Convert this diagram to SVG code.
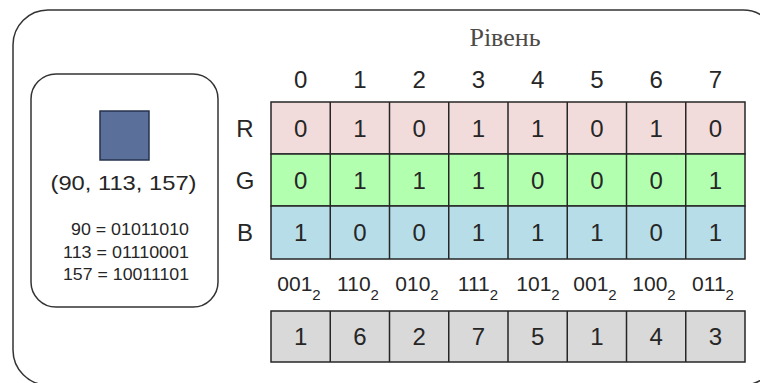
<svg xmlns="http://www.w3.org/2000/svg" width="760" height="383" viewBox="0 0 760 383">
<style>
.frame{fill:none;stroke:#333;stroke-width:1.5}
.cell{stroke:#262626;stroke-width:1.5}
.r{fill:#f2dcdb}.g{fill:#b3ffb0}.b{fill:#b7dde8}.k{fill:#d9d9d9}
text{font-family:"Liberation Sans",Arial,sans-serif;fill:#262626}
.d{font-size:24px;text-anchor:middle}
.s{font-size:21px;text-anchor:middle}
.sub{font-size:15px}
.bin{font-size:16px;text-anchor:end}
.title{font-family:"Liberation Serif","Times New Roman",serif;font-size:26px;fill:#4d4a48;text-anchor:middle}
</style>
<rect id="outer" class="frame" x="13" y="10" width="765" height="375" rx="35"/>
<g id="pixel">
<rect class="frame" x="31" y="74" width="187" height="233" rx="25"/>
<rect x="100" y="111" width="49" height="49" fill="#5a6f9a" stroke="#26324d" stroke-width="1.5"/>
<text x="123.5" y="190" style="font-size:21px;text-anchor:middle" textLength="146" lengthAdjust="spacingAndGlyphs">(90, 113, 157)</text>
<text class="bin" x="189" y="235" textLength="118" lengthAdjust="spacingAndGlyphs">90 = 01011010</text>
<text class="bin" x="189" y="258" textLength="126" lengthAdjust="spacingAndGlyphs">113 = 01110001</text>
<text class="bin" x="189" y="280" textLength="126" lengthAdjust="spacingAndGlyphs">157 = 10011101</text>
</g>
<text id="title" class="title" x="505" y="46">Рівень</text>
<g id="headers">
<text class="d" x="300.6" y="88">0</text>
<text class="d" x="359.9" y="88">1</text>
<text class="d" x="419.1" y="88">2</text>
<text class="d" x="478.4" y="88">3</text>
<text class="d" x="537.6" y="88">4</text>
<text class="d" x="596.9" y="88">5</text>
<text class="d" x="656.1" y="88">6</text>
<text class="d" x="715.4" y="88">7</text>
<text class="d" x="245" y="137">R</text>
<text class="d" x="245" y="189">G</text>
<text class="d" x="245" y="241">B</text>
</g>
<g id="rowR">
<rect class="cell r" x="271" y="102" width="474" height="52"/>
<path class="cell" d="M330.25 102V154M389.5 102V154M448.75 102V154M508 102V154M567.25 102V154M626.5 102V154M685.75 102V154"/>
<text class="d" x="300.6" y="137">0</text><text class="d" x="359.9" y="137">1</text><text class="d" x="419.1" y="137">0</text><text class="d" x="478.4" y="137">1</text><text class="d" x="537.6" y="137">1</text><text class="d" x="596.9" y="137">0</text><text class="d" x="656.1" y="137">1</text><text class="d" x="715.4" y="137">0</text>
</g>
<g id="rowG">
<rect class="cell g" x="271" y="154" width="474" height="52"/>
<path class="cell" d="M330.25 154V206M389.5 154V206M448.75 154V206M508 154V206M567.25 154V206M626.5 154V206M685.75 154V206"/>
<text class="d" x="300.6" y="189">0</text><text class="d" x="359.9" y="189">1</text><text class="d" x="419.1" y="189">1</text><text class="d" x="478.4" y="189">1</text><text class="d" x="537.6" y="189">0</text><text class="d" x="596.9" y="189">0</text><text class="d" x="656.1" y="189">0</text><text class="d" x="715.4" y="189">1</text>
</g>
<g id="rowB">
<rect class="cell b" x="271" y="206" width="474" height="53"/>
<path class="cell" d="M330.25 206V259M389.5 206V259M448.75 206V259M508 206V259M567.25 206V259M626.5 206V259M685.75 206V259"/>
<text class="d" x="300.6" y="241">1</text><text class="d" x="359.9" y="241">0</text><text class="d" x="419.1" y="241">0</text><text class="d" x="478.4" y="241">1</text><text class="d" x="537.6" y="241">1</text><text class="d" x="596.9" y="241">1</text><text class="d" x="656.1" y="241">0</text><text class="d" x="715.4" y="241">1</text>
</g>
<g id="codes">
<text class="s" x="299" y="291">001<tspan class="sub" dy="9">2</tspan></text>
<text class="s" x="358" y="291">110<tspan class="sub" dy="9">2</tspan></text>
<text class="s" x="417" y="291">010<tspan class="sub" dy="9">2</tspan></text>
<text class="s" x="478" y="291">111<tspan class="sub" dy="9">2</tspan></text>
<text class="s" x="538" y="291">101<tspan class="sub" dy="9">2</tspan></text>
<text class="s" x="595" y="291">001<tspan class="sub" dy="9">2</tspan></text>
<text class="s" x="654" y="291">100<tspan class="sub" dy="9">2</tspan></text>
<text class="s" x="713" y="291">011<tspan class="sub" dy="9">2</tspan></text>
</g>
<g id="rowOut">
<rect class="cell k" x="271" y="311" width="474" height="51"/>
<path class="cell" d="M330.25 311V362M389.5 311V362M448.75 311V362M508 311V362M567.25 311V362M626.5 311V362M685.75 311V362"/>
<text class="d" x="300.6" y="345">1</text><text class="d" x="359.9" y="345">6</text><text class="d" x="419.1" y="345">2</text><text class="d" x="478.4" y="345">7</text><text class="d" x="537.6" y="345">5</text><text class="d" x="596.9" y="345">1</text><text class="d" x="656.1" y="345">4</text><text class="d" x="715.4" y="345">3</text>
</g>
</svg>
